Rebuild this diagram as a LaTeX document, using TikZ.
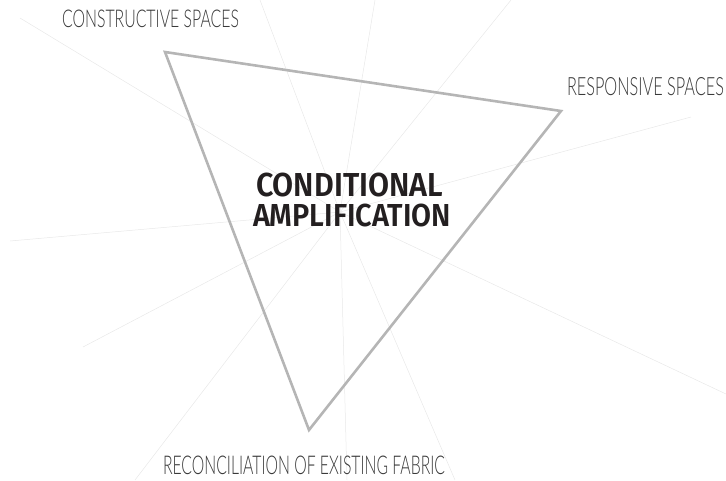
\documentclass[tikz,border=0pt]{standalone}
\usepackage{fontspec}
\usepackage{graphicx}
\IfFontExistsTF{Lato Light}
  {\newfontfamily\labelfont{Lato Light}}
  {\newfontfamily\labelfont{Fira Sans}}
\IfFontExistsTF{Fira Sans SemiBold}
  {\newfontfamily\titlefont{Fira Sans SemiBold}}
  {\newfontfamily\titlefont[UprightFont=*-Bold]{Fira Sans}}
\definecolor{edgegrey}{HTML}{B5B5B5}
\definecolor{raygrey}{HTML}{E8E8E8}
\definecolor{labelgrey}{HTML}{3A3A3A}
\definecolor{titleink}{HTML}{231F20}
\newcommand{\fitlabel}[3]{\resizebox{#1pt}{#2pt}{\labelfont #3}}
\newcommand{\fittitle}[3]{\resizebox{#1pt}{#2pt}{\titlefont #3}}
\begin{document}
\begin{tikzpicture}[x=1pt,y=-1pt,
  ray/.style={draw=raygrey,line width=0.5pt},
  edge/.style={draw=edgegrey,line width=2.6pt,line join=miter},
  lab/.style={inner sep=0pt,outer sep=0pt,anchor=south west,text=labelgrey},
  ttl/.style={inner sep=0pt,outer sep=0pt,anchor=south west,text=titleink}]
\useasboundingbox (0,0) rectangle (726,480);
% centre of the radiating lines
\coordinate (hub) at (340,212);
\foreach \px/\py [count=\i] in {20/18,260/0,375/0,511/0,691/117,726/394,
                               455/480,347/480,135/480,83/347,10/241}
  \coordinate (r\i) at (\px,\py);
\foreach \i in {1,...,11}
  \draw[ray] (hub) -- (r\i);
% the triangle
\coordinate (cs) at (165,52);
\coordinate (rs) at (561,111);
\coordinate (rf) at (309,430);
\draw[edge] (cs) -- (rs) -- (rf) -- cycle;
% labels
\node[lab] (tcs) at (62,28) {\fitlabel{177}{17.5}{CONSTRUCTIVE SPACES}};
\node[lab] (trs) at (567,96) {\fitlabel{157}{18}{RESPONSIVE SPACES}};
\node[lab] (trf) at (163,475) {\fitlabel{282}{18.5}{RECONCILIATION OF EXISTING FABRIC}};
\node[ttl] (t1) at (256,197) {\fittitle{187}{23.5}{CONDITIONAL}};
\node[ttl] (t2) at (253,227) {\fittitle{198}{22.5}{AMPLIFICATION}};
\end{tikzpicture}
\end{document}
